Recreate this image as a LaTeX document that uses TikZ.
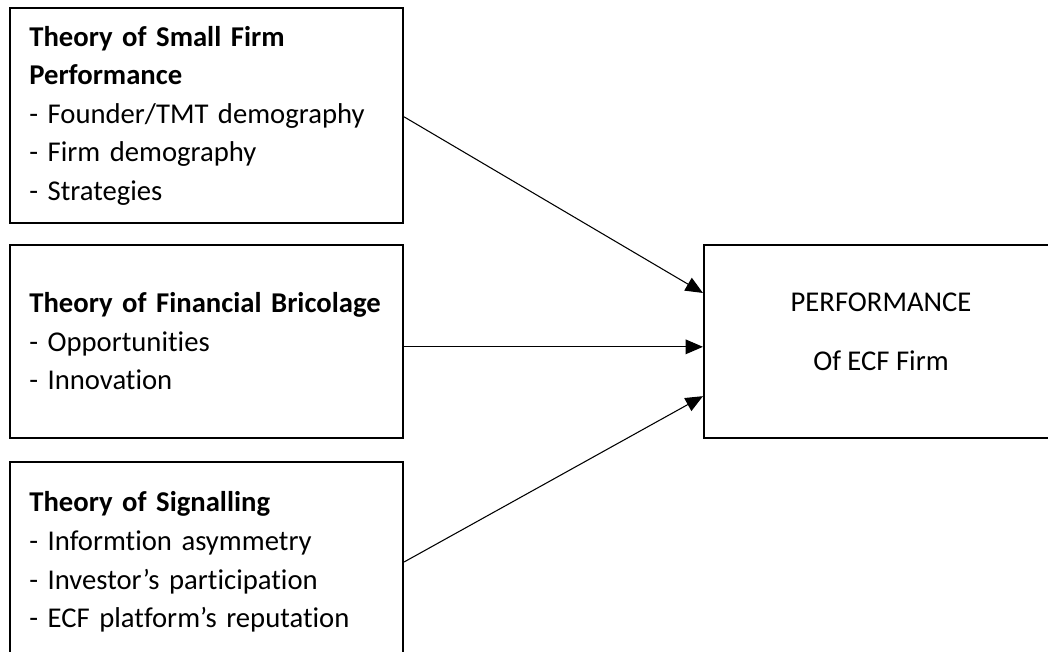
\documentclass[tikz,border=0pt]{standalone}
\usepackage{fontspec}
\setmainfont{Carlito}[Ligatures=NoCommon]
\usetikzlibrary{arrows.meta}

\newcommand{\boxfont}{\fontsize{21.5}{28.9}\selectfont\hyphenpenalty=10000\relax}

\tikzset{
  theorybox/.style={draw, rectangle, line width=1.6pt, minimum width=294.75pt,
    inner xsep=14.5pt, text width=265.75pt, align=left, font=\boxfont},
  perfbox/.style={draw, rectangle, line width=1.6pt, minimum width=265.5pt,
    minimum height=144.75pt},
  link/.style={line width=0.8pt, -{Triangle[length=13pt,width=11pt]}}
}

\begin{document}
\begin{tikzpicture}
\path[use as bounding box] (0,0) rectangle (786pt,488.25pt);
\clip (0,0) rectangle (786pt,488.25pt);

% Nodes
\node[theorybox, minimum height=161.25pt] (small) at (154.875pt,401.625pt)
  {\textbf{Theory of Small Firm}\\\textbf{Performance}\\- Founder/TMT demography\\- Firm demography\\- Strategies};
\node[theorybox, minimum height=144.75pt] (brico) at (154.875pt,232.125pt)
  {\textbf{Theory of Financial Bricolage}\\- Opportunities\\- Innovation};
\node[theorybox, minimum height=150pt] (signal) at (154.875pt,66.75pt)
  {\textbf{Theory of Signalling}\\- Informtion asymmetry\\- Investor’s participation\\- ECF platform’s reputation};
\node[perfbox] (perf) at (660.75pt,232.125pt) {};
\node[align=center, font=\boxfont] (perflabel) at ([yshift=7.6pt]perf.center)
  {PERFORMANCE\\[15.35pt]Of ECF Firm};

% Links
\draw[link] ([yshift=-1pt]small.east) -- ([yshift=36.4pt]perf.west);
\draw[link] ([yshift=-4pt]brico.east) -- ([yshift=-4pt]perf.west);
\draw[link] (signal.east) -- ([yshift=-41pt]perf.west);
\end{tikzpicture}
\end{document}
